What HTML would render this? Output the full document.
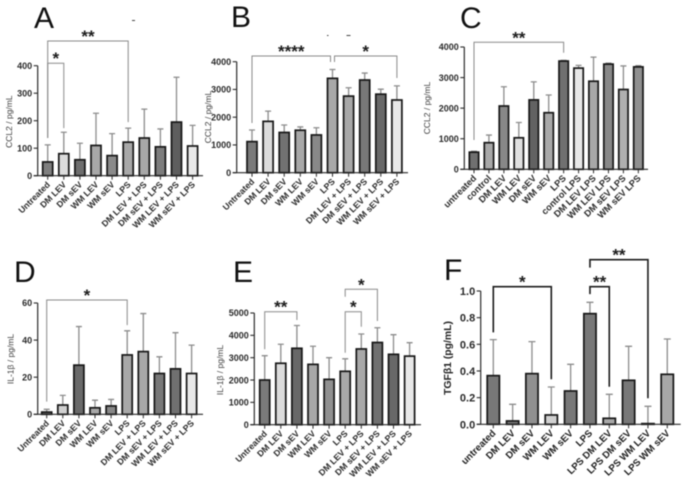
<!DOCTYPE html>
<html lang="en">
<head>
<meta charset="utf-8">
<title>Cytokine bar charts</title>
<style>
html,body{margin:0;padding:0;background:#fff;width:686px;height:489px;overflow:hidden}
svg{display:block;filter:blur(0.5px)}
text{font-family:"Liberation Sans",sans-serif}
</style>
</head>
<body>
<svg id="figure" xmlns="http://www.w3.org/2000/svg" width="686" height="489" viewBox="0 0 686 489"></svg>
<script>
// Panel A data
const panelACategories = ["Untreated","DM LEV","DM sEV","WM LEV","WM sEV","LPS","DM LEV + LPS","DM sEV + LPS","WM LEV + LPS","WM sEV + LPS"];
const panelAValues = [50,80,58,110,73,122,137,105,195,108];
const panelAErrorTops = [112,158,118,227,153,173,242,170,358,183];
const panelATicks = [0,100,200,300,400];
const panelATickLabels = ["0","100","200","300","400"];
// Panel B data
const panelBCategories = ["Untreated","DM LEV","DM sEV","WM LEV","WM sEV","LPS","DM LEV + LPS","DM sEV + LPS","WM LEV + LPS","WM sEV + LPS"];
const panelBValues = [1120,1850,1450,1530,1360,3400,2760,3340,2830,2620];
const panelBErrorTops = [1540,2220,1720,1650,1620,3720,3060,3590,3010,3130];
const panelBTicks = [0,1000,2000,3000,4000];
const panelBTickLabels = ["0","1000","2000","3000","4000"];
// Panel C data
const panelCCategories = ["untreated","control","DM LEV","WM LEV","DM sEV","WM sEV","LPS","control LPS","DM LEV LPS","WM LEV LPS","DM sEV LPS","WM sEV LPS"];
const panelCValues = [560,870,2070,1030,2270,1850,3540,3310,2880,3440,2610,3350];
const panelCErrorTops = [590,1120,2700,1530,2860,2430,3560,3400,3670,3470,3380,3390];
const panelCTicks = [0,1000,2000,3000,4000];
const panelCTickLabels = ["0","1000","2000","3000","4000"];
// Panel D data
const panelDCategories = ["Untreated","DM LEV","DM sEV","WM LEV","WM sEV","LPS","DM LEV + LPS","DM sEV + LPS","WM LEV + LPS","WM sEV + LPS"];
const panelDValues = [1.2,5,26.5,3.5,4.5,32,33.8,22,24.5,22];
const panelDErrorTops = [2.7,10.2,47.3,7.6,8,45,54.3,31,44,37.3];
const panelDTicks = [0,20,40,60];
const panelDTickLabels = ["0","20","40","60"];
// Panel E data
const panelECategories = ["Untreated","DM LEV","DM sEV","WM LEV","WM sEV","LPS","DM LEV + LPS","DM sEV + LPS","WM LEV + LPS","WM sEV + LPS"];
const panelEValues = [2000,2750,3420,2700,2030,2390,3390,3680,3150,3070];
const panelEErrorTops = [3090,3600,4440,3510,3000,2950,4060,4340,4030,3670];
const panelETicks = [0,1000,2000,3000,4000,5000];
const panelETickLabels = ["0","1000","2000","3000","4000","5000"];
// Panel F data
const panelFCategories = ["untreated","DM LEV","DM sEV","WM LEV","WM sEV","LPS","LPS DM LEV","LPS DM sEV","LPS WM LEV","LPS WM sEV"];
const panelFValues = [0.365,0.025,0.38,0.07,0.25,0.83,0.045,0.33,0.005,0.375];
const panelFErrorTops = [0.635,0.15,0.62,0.28,0.45,0.915,0.225,0.585,0.135,0.64];
const panelFTicks = [0,0.2,0.4,0.6,0.8,1];
const panelFTickLabels = ["0.0","0.2","0.4","0.6","0.8","1.0"];

// Significance brackets, expressed in category indices and axis values
const panelABrackets = [
  {stars:"**", from:0, to:5, top:490, leftEnd:137, rightEnd:195},
  {stars:"*", from:0, to:1, top:409, leftEnd:137, rightEnd:173}
];
const panelBBrackets = [
  {stars:"****", from:0, to:5, top:4205, leftEnd:1790, rightEnd:3990, dxRight:-2},
  {stars:"*", from:5, to:9, top:4205, leftEnd:3990, rightEnd:3413, dxLeft:2}
];
const panelCBrackets = [
  {stars:"**", from:0, to:6, top:4154, leftEnd:958, rightEnd:3813}
];
const panelDBrackets = [
  {stars:"*", from:0, to:5, top:61.6, leftEnd:6.8, rightEnd:48.1}
];
const panelEBrackets = [
  {stars:"**", from:0, to:2, top:5058, leftEnd:3375, rightEnd:4687},
  {stars:"*", from:5, to:6, top:5058, leftEnd:3223, rightEnd:4387},
  {stars:"*", from:5, to:7, top:6061, leftEnd:5730, rightEnd:4642}
];
const panelFBrackets = [
  {stars:"*", from:0, to:3, top:1.032, leftEnd:0.69, rightEnd:0.338},
  {stars:"**", from:5, to:6, top:1.032, leftEnd:0.977, rightEnd:0.282},
  {stars:"**", from:5, to:8, top:1.235, leftEnd:1.175, rightEnd:0.195}
];

// Bar shades (appearance only)
const panelAShades = ["#7f7f7f","#dcdcdc","#6e6e6e","#a8a8a8","#8a8a8a","#a8a8a8","#a8a8a8","#7d7d7d","#5e5e5e","#e8e8e8"];
const panelBShades = ["#7a7a7a","#dcdcdc","#727272","#a8a8a8","#888888","#a8a8a8","#a8a8a8","#787878","#686868","#e8e8e8"];
const panelCShades = ["#707070","#a8a8a8","#888888","#e0e0e0","#626262","#a8a8a8","#707070","#e8e8e8","#a8a8a8","#888888","#b0b0b0","#909090"];
const panelDShades = ["#7a7a7a","#d0d0d0","#6a6a6a","#a8a8a8","#888888","#a8a8a8","#a8a8a8","#787878","#707070","#e8e8e8"];
const panelEShades = ["#7a7a7a","#dcdcdc","#686868","#a8a8a8","#909090","#a8a8a8","#a8a8a8","#707070","#686868","#e8e8e8"];
const panelFShades = ["#787878","#787878","#909090","#d0d0d0","#787878","#787878","#a8a8a8","#787878","#787878","#a8a8a8"];

const NS = "http://www.w3.org/2000/svg";
const figure = document.getElementById("figure");

function make(parent, tag, attrs, text) {
  const el = document.createElementNS(NS, tag);
  for (const k in attrs) el.setAttribute(k, attrs[k]);
  if (text !== undefined) el.textContent = text;
  parent.appendChild(el);
  return el;
}

function drawPanel(p) {
  const group = make(figure, "g", {});
  
  

  const xScale = i => p.x0 + i * p.step;
  const yScale = v => p.yBase - (v - p.ticks[0]) / (p.ticks[p.ticks.length - 1] - p.ticks[0]) * (p.yBase - p.yTop);

  // panel letter
  const letter = make(group, "text", {x:p.letterX, y:p.letterY, "font-size":30, fill:"#111"}, p.id);
  
  

  // error bars first, then bars
  p.errors.forEach((top, i) => {
    const cx = xScale(i);
    const err = make(group, "path", {
      d:`M${cx} ${yScale(p.values[i])}V${yScale(top)}M${cx - p.cap} ${yScale(top)}H${cx + p.cap}`,
      stroke:"#8c8c8c", "stroke-width":p.errW, fill:"none"
    });
    
    
  });
  p.values.forEach((v, i) => {
    const cx = xScale(i);
    const bar = make(group, "rect", {
      x:cx - p.barW / 2, y:yScale(v), width:p.barW, height:Math.max(p.yBase - yScale(v), 0),
      fill:p.shades[i], stroke:"#161616", "stroke-width":1.7
    });
    
    
  });

  // axes
  const yAxis = make(group, "line", {x1:p.axisX, x2:p.axisX, y1:p.yTop, y2:p.yBase, stroke:"#2a2a2a", "stroke-width":1.2});
  
  
  const xAxis = make(group, "line", {x1:p.axisX - 4, x2:p.axisEnd, y1:p.yBase, y2:p.yBase, stroke:"#2a2a2a", "stroke-width":1.2});
  
  

  p.ticks.forEach((t, i) => {
    const y = yScale(t);
    const tick = make(group, "line", {x1:p.axisX - 4, x2:p.axisX, y1:y, y2:y, stroke:"#2a2a2a", "stroke-width":1.1});
    
    
    const lab = make(group, "text", {x:p.axisX - 5.5, y:y + p.tickFont * 0.36, "text-anchor":"end", "font-size":p.tickFont, "font-weight":"bold", fill:"#2a2a2a"}, p.tickLabels[i]);
    
    
  });

  p.categories.forEach((c, i) => {
    const cx = xScale(i);
    const tick = make(group, "line", {x1:cx, x2:cx, y1:p.yBase, y2:p.yBase + 4, stroke:"#2a2a2a", "stroke-width":1});
    
    
    const ax = cx + 3, ay = p.yBase + p.labelDy;
    const lab = make(group, "text", {x:ax, y:ay, "text-anchor":"end", "font-size":p.catFont, "font-weight":"bold", fill:p.catFill, transform:`rotate(-45 ${ax} ${ay})`}, c);
    
    
  });

  // y axis title
  const title = make(group, "text", {x:p.titleX, y:p.titleY, "text-anchor":"middle", "font-size":p.titleFont, "font-weight":p.titleWeight, fill:p.titleFill, transform:`rotate(-90 ${p.titleX} ${p.titleY})`}, p.title);
  
  

  // significance brackets
  p.brackets.forEach(b => {
    const xl = xScale(b.from) + (b.dxLeft || 0), xr = xScale(b.to) + (b.dxRight || 0);
    const yt = yScale(b.top);
    const path = make(group, "path", {
      d:`M${xl} ${yScale(b.leftEnd)}V${yt}H${xr}V${yScale(b.rightEnd)}`,
      fill:"none", stroke:p.bracketStroke, "stroke-width":p.bracketW
    });
    
    
    const star = make(group, "text", {x:(xl + xr) / 2, y:yt + 1, "text-anchor":"middle", "font-size":17, "font-weight":"bold", fill:"#1c1c1c"}, b.stars);
    
    
  });
}

const smallLabels = {catFont:8.7, tickFont:9, titleFont:8.5, titleWeight:"normal", titleFill:"#3c3c3c", catFill:"#2c2c2c", bracketStroke:"#8a8a8a", bracketW:1, errW:1.3, cap:3, labelDy:9.5};

drawPanel(Object.assign({}, smallLabels, {
  id:"A", categories:panelACategories, values:panelAValues, errors:panelAErrorTops, ticks:panelATicks, tickLabels:panelATickLabels, brackets:panelABrackets, shades:panelAShades,
  x0:47.7, step:16.1, barW:10, axisX:37.7, axisEnd:203, yBase:175.7, yTop:65.7, letterX:34, letterY:28, title:"CCL2 / pg/mL", titleX:12, titleY:121.7
}));
drawPanel(Object.assign({}, smallLabels, {
  id:"B", categories:panelBCategories, values:panelBValues, errors:panelBErrorTops, ticks:panelBTicks, tickLabels:panelBTickLabels, brackets:panelBBrackets, shades:panelBShades,
  x0:252, step:16.1, barW:10, axisX:236.7, axisEnd:408, yBase:172.7, yTop:61.7, letterX:231, letterY:27, title:"CCL2 / pg/mL", titleX:211, titleY:117
}));
drawPanel(Object.assign({}, smallLabels, {
  id:"C", categories:panelCCategories, values:panelCValues, errors:panelCErrorTops, ticks:panelCTicks, tickLabels:panelCTickLabels, brackets:panelCBrackets, shades:panelCShades,
  x0:474, step:14.94, barW:9.3, axisX:464.3, axisEnd:648, yBase:169.3, yTop:47, letterX:460, letterY:28, title:"CCL2 / pg/mL", titleX:430, titleY:108, catFont:9.2
}));
drawPanel(Object.assign({}, smallLabels, {
  id:"D", categories:panelDCategories, values:panelDValues, errors:panelDErrorTops, ticks:panelDTicks, tickLabels:panelDTickLabels, brackets:panelDBrackets, shades:panelDShades,
  x0:46.7, step:16.1, barW:10, axisX:37.7, axisEnd:203, yBase:414.3, yTop:303, letterX:14, letterY:282, title:"IL-1β / pg/mL", titleX:13.5, titleY:359
}));
drawPanel(Object.assign({}, smallLabels, {
  id:"E", categories:panelECategories, values:panelEValues, errors:panelEErrorTops, ticks:panelETicks, tickLabels:panelETickLabels, brackets:panelEBrackets, shades:panelEShades,
  x0:264.7, step:16.1, barW:10, axisX:254.3, axisEnd:421, yBase:424.7, yTop:313, letterX:233, letterY:282, title:"IL-1β / pg/mL", titleX:223, titleY:370
}));
drawPanel(Object.assign({}, smallLabels, {
  id:"F", categories:panelFCategories, values:panelFValues, errors:panelFErrorTops, ticks:panelFTicks, tickLabels:panelFTickLabels, brackets:panelFBrackets, shades:panelFShades,
  x0:493.3, step:19.33, barW:12.2, axisX:480.7, axisEnd:680.7, yBase:424.3, yTop:291, letterX:444, letterY:280, title:"TGFβ1 (pg/mL)", titleX:451, titleY:358,
  catFont:9.7, tickFont:11, titleFont:10.4, titleWeight:"bold", titleFill:"#222", catFill:"#222", bracketStroke:"#1c1c1c", bracketW:1.6, cap:3.5
}));

// Stray marks in the source figure
[[132, 20, 3], [327, 35, 1.5], [346.5, 35, 4]].forEach(m => {
  const mark = make(figure, "rect", {x:m[0], y:m[1], width:m[2], height:1, fill:"#444"});
  
  
});
</script>
</body>
</html>
